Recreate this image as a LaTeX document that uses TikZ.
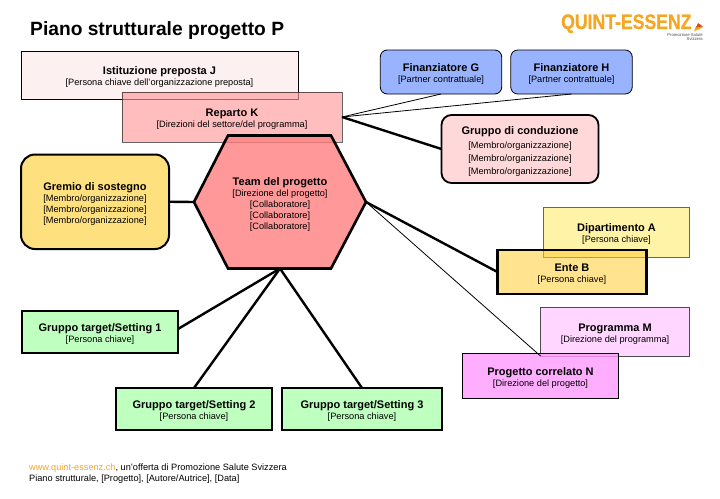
\documentclass[tikz,border=0pt]{standalone}
\usepackage{fontspec}
\setmainfont{Liberation Sans}
\usetikzlibrary{arrows.meta, positioning}
\definecolor{pale}{HTML}{FDF0F0}
\definecolor{rep}{HTML}{FF9999}
\definecolor{hex}{HTML}{FF7F7F}
\definecolor{fin}{HTML}{99B3FF}
\definecolor{cond}{HTML}{FFD9D9}
\definecolor{grem}{HTML}{FFE07F}
\definecolor{dip}{HTML}{FFF3A8}
\definecolor{ent}{HTML}{FFCC33}
\definecolor{prg}{HTML}{FFD6FF}
\definecolor{cor}{HTML}{FF99FF}
\definecolor{tgt}{HTML}{BFFFBF}
\definecolor{qe}{HTML}{F5A623}
\definecolor{qer}{HTML}{D9501E}
\newcommand{\hd}[1]{{\rule{0pt}{12.5pt}\fontsize{11}{12}\selectfont\bfseries #1}}
\tikzset{
  n/.style={draw=black, align=center, font=\fontsize{9.2}{11}\selectfont, inner sep=0pt, outer sep=0pt, line width=0.8pt},
  nr/.style={n, rounded corners=7pt},
  nt/.style={n, line width=2.6pt, fill=tgt, minimum height=42pt},
  lk/.style={draw=black, line width=2.4pt},
  lf/.style={draw=black, line width=0.8pt},
}
\begin{document}
\begin{tikzpicture}[x=1pt,y=-1pt]
\useasboundingbox (0,0) rectangle (720,498);
\node[font=\fontsize{19.2}{20}\selectfont\bfseries, anchor=base west, inner sep=0pt] (title) at (30,35.5) {Piano strutturale progetto P};

\node[n, fill=pale, minimum width=277pt, minimum height=48pt] (ist) at (159.5,75) {\hd{Istituzione preposta J}\\{}[Persona chiave dell'organizzazione preposta]};
\node[n, fill=rep, fill opacity=0.65, text opacity=1, draw opacity=0.6, minimum width=220pt, minimum height=50pt] (rpt) at (232,117) {\hd{Reparto K}\\{}[Direzioni del settore/del programma]};
\node[nr, fill=fin, minimum width=121.5pt, minimum height=44pt] (fing) at (441,72) {\hd{Finanziatore G}\\{}[Partner contrattuale]};
\node[nr, fill=fin, minimum width=121.5pt, minimum height=44pt, right=9pt of fing] (finh) {\hd{Finanziatore H}\\{}[Partner contrattuale]};
\node[nr, fill=cond, line width=1.8pt, rounded corners=10pt, minimum width=157pt, minimum height=68pt, font=\fontsize{9.2}{13}\selectfont] (cnd) at (520,149) {\hd{Gruppo di conduzione}\\[1pt]{}[Membro/organizzazione]\\{}[Membro/organizzazione]\\{}[Membro/organizzazione]};
\node[nr, fill=grem, line width=2pt, rounded corners=14pt, minimum width=148pt, minimum height=94.5pt] (grm) at (95,201.75) {\hd{Gremio di sostegno}\\{}[Membro/organizzazione]\\{}[Membro/organizzazione]\\{}[Membro/organizzazione]};
\draw[fill=hex, fill opacity=0.8, line width=2.6pt, line join=miter] (194,202) -- (228,135.5) -- (331,135.5) -- (366,202) -- (331,268.5) -- (228,268.5) -- cycle;
\node[n, draw=none, minimum width=172pt, minimum height=133pt] (team) at (280,202) {\hd{Team del progetto}\\{}[Direzione del progetto]\\{}[Collaboratore]\\{}[Collaboratore]\\{}[Collaboratore]};
\node[n, fill=dip, draw=black!60, minimum width=146pt, minimum height=50pt] (dpt) at (616.5,232) {\hd{Dipartimento A}\\{}[Persona chiave]};
\node[n, fill=ent, fill opacity=0.55, text opacity=1, line width=2.4pt, minimum width=149pt, minimum height=44pt] (ent) at (572,272) {\hd{Ente B}\\{}[Persona chiave]};
\node[n, fill=prg, draw=black!70, minimum width=149pt, minimum height=48.5pt] (prm) at (615,331.75) {\hd{Programma M}\\{}[Direzione del programma]};
\node[n, fill=cor, fill opacity=0.8, text opacity=1, minimum width=156pt, minimum height=45pt] (crr) at (540.5,375.5) {\hd{Progetto correlato N}\\{}[Direzione del progetto]};
\node[nt, minimum width=156pt] (gt1) at (100,332) {\hd{Gruppo target/Setting 1}\\{}[Persona chiave]};
\node[nt, minimum width=156pt] (gt2) at (194,409) {\hd{Gruppo target/Setting 2}\\{}[Persona chiave]};
\node[nt, minimum width=160pt, right=10pt of gt2] (gt3) {\hd{Gruppo target/Setting 3}\\{}[Persona chiave]};

\draw[lf] (rpt.east) -- (fing.south);
\draw[lf] (rpt.east) -- (finh.south);
\draw[lk] (rpt.east) -- (cnd.west);
\draw[lk] (grm.east) -- (team.west);
\draw[lk] (team.east) -- (ent.west);
\draw[lf] (team.east) -- (prm.south west);
\draw[lk] (team.south) -- ([yshift=3pt]gt1.east);
\draw[lk] (team.south) -- (gt2.north);
\draw[lk] (team.south) -- (gt3.north);

\node[font=\fontsize{9.2}{11}\selectfont, align=left, anchor=north west, inner sep=0pt] (foot) at (29,463.5) {\textcolor{qe}{www.quint-essenz.ch}, un'offerta di Promozione Salute Svizzera\\Piano strutturale, [Progetto], [Autore/Autrice], [Data]};

\node[font=\fontsize{21}{22}\selectfont\bfseries\addfontfeature{FakeBold=0.8}, text=qe, xscale=0.84, transform shape, inner sep=0pt, anchor=base west] (logo) at (561,29) {QUINT-ESSENZ};
\node[font=\fontsize{4.2}{4.6}\selectfont, align=right, text=black!70, anchor=north east, inner sep=0pt] (sub) at (703,33) {Promozione Salute\\Svizzera};
\fill[qe] (694,31) -- (696,26) -- (703,27) -- (699,29.5) -- cycle;
\fill[qer] (696,27.5) -- (698,23) -- (703,26.5) -- cycle;
\end{tikzpicture}
\end{document}
